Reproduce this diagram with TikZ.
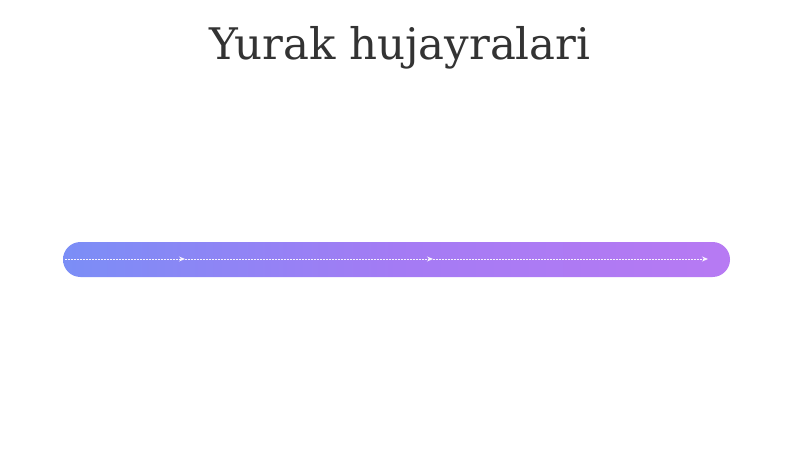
\documentclass[tikz,border=0pt]{standalone}
\usepackage{fontspec}
\newfontfamily\titlefont{DejaVu Serif}
\usetikzlibrary{arrows.meta}
\definecolor{barL}{HTML}{7B8EF6}
\definecolor{barM}{HTML}{A47BF4}
\definecolor{barR}{HTML}{B77AF3}
\definecolor{titlecol}{HTML}{333333}
\tikzset{
  flow/.style={draw=white!92!barM, line width=0.9pt, dash pattern=on 1.5pt off 1.5pt,
    -{Stealth[length=6pt,width=5pt]}},
}
\begin{document}
\begin{tikzpicture}[x=1pt,y=-1pt]
\useasboundingbox (0,0) rectangle (800,449);
\node[font=\titlefont\fontsize{43.5}{50}\selectfont, text=titlecol] (title) at (400,48) {Yurak hujayralari};
\node[minimum width=667pt, minimum height=35pt, rounded corners=17.5pt, inner sep=0pt,
      left color=barL, right color=barR, middle color=barM] (bar) at (396.5,259.5) {};
\coordinate (p0) at (65,259);
\coordinate (p1) at (185,259);
\coordinate (p2) at (433,259);
\coordinate (p3) at (708,259);
\draw[flow] (p0) -- (p1);
\draw[flow] (p1) -- (p2);
\draw[flow] (p2) -- (p3);
\end{tikzpicture}
\end{document}
